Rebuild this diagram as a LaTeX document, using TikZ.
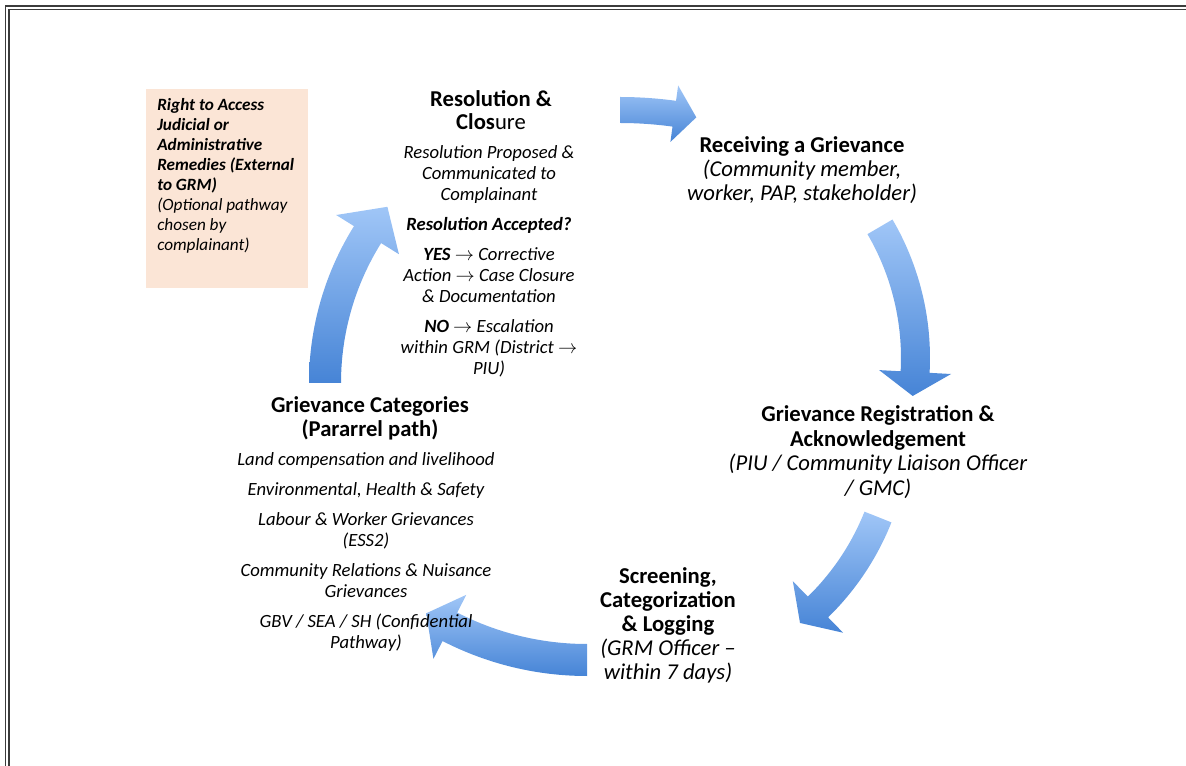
\documentclass[tikz,border=0pt]{standalone}
\usepackage{fontspec}
\setmainfont{Carlito}

\definecolor{arrowtop}{RGB}{160,198,247}
\definecolor{arrowbot}{RGB}{70,132,214}
\definecolor{remedyfill}{RGB}{251,229,214}
\definecolor{framegray}{RGB}{60,60,60}

\tikzset{
  steptitle/.style={align=center, inner sep=0pt, font=\fontsize{17}{18}\selectfont},
  stepnote/.style={align=center, inner sep=0pt, font=\fontsize{14}{15.75}\selectfont\itshape},
  remedybox/.style={anchor=north west, fill=remedyfill, inner xsep=0pt, inner ysep=6.75pt,
    font=\fontsize{12.9}{15}\selectfont}
}

\begin{document}
\begin{tikzpicture}[x=0.75pt, y=-0.75pt]
        \useasboundingbox (0,0) rectangle (1186,766);
        % page frame
        \draw[framegray, line width=1pt] (5.5,766) -- (5.5,6) -- (1186,6);
        \draw[framegray, line width=1.4pt] (9,766) -- (9,9.5) -- (1186,9.5);
        % curved arrows of the cycle
        \foreach \cx/\cy/\r/\ta/\tb/\tc/\w/\h in {
            620/510/400/-90/-82.2/-79/13/28.5,
            655.5/358/260/-30.3/3.1/8.4/14.5/36,
            636.4/420.9/260/21.7/45.7/51/14.5/36,
            587/360/300/90/117.2/122.4/16/36,
            605/383/280/180/212/219/16/37}
        {
            \shade[top color=arrowtop, bottom color=arrowbot, shift={(\cx,\cy)}]
                ({\ta}:{\r+\w}) arc[start angle=\ta, end angle=\tb, radius=\r+\w]
                -- ({\tb}:{\r+\h}) -- ({\tc}:{\r}) -- ({\tb}:{\r-\h}) -- ({\tb}:{\r-\w})
                arc[start angle=\tb, end angle=\ta, radius=\r-\w] -- cycle;
        }
        % external remedies
        \node[remedybox] (remedy) at (146,89) {\parbox[t][135.75pt][t]{121.5pt}{\raggedright\leftskip=8.25pt
            \textbf{\textit{Right to Access\\Judicial or\\Administrative\\Remedies (External\\to GRM)}}\\
            \textit{(Optional pathway\\chosen by\\complainant)}}};
        % steps
        \node[steptitle, font=\fontsize{17}{17.25}\selectfont] (resolve) at (491,110)
            {\textbf{Resolution \&}\\\textbf{Clos}ure};
        \node[stepnote] (resolvenote) at (489,261)
            {Resolution Proposed \&\\Communicated to\\Complainant\\[6.75pt]
             \textbf{Resolution Accepted?}\\[6.75pt]
             \textbf{YES} $\rightarrow$ Corrective\\Action $\rightarrow$ Case Closure\\\& Documentation\\[6.75pt]
             \textbf{NO} $\rightarrow$ Escalation\\within GRM (District $\rightarrow$\\PIU)};
        \node[steptitle] (receive) at (802,170)
            {\textbf{Receiving a Grievance}\\\textit{(Community member,}\\\textit{worker, PAP, stakeholder)}};
        \node[steptitle, font=\fontsize{17}{18.5}\selectfont] (register) at (878,452)
            {\textbf{Grievance Registration \&}\\\textbf{Acknowledgement}\\\textit{(PIU / Community Liaison Officer}\\\textit{/ GMC)}};
        \node[steptitle] (screen) at (668,625.5)
            {\textbf{Screening,}\\\textbf{Categorization}\\\textbf{\& Logging}\\\textit{(GRM Officer –}\\\textit{within 7 days)}};
        \node[steptitle] (category) at (370,418)
            {\textbf{Grievance Categories}\\\textbf{(Pararrel path)}};
        \node[stepnote] (categorynote) at (366,552)
            {Land compensation and livelihood\\[6.75pt]Environmental, Health \& Safety\\[6.75pt]
             Labour \& Worker Grievances\\(ESS2)\\[6.75pt]Community Relations \& Nuisance\\Grievances\\[6.75pt]
             GBV / SEA / SH (Confidential\\Pathway)};
\end{tikzpicture}
\end{document}
